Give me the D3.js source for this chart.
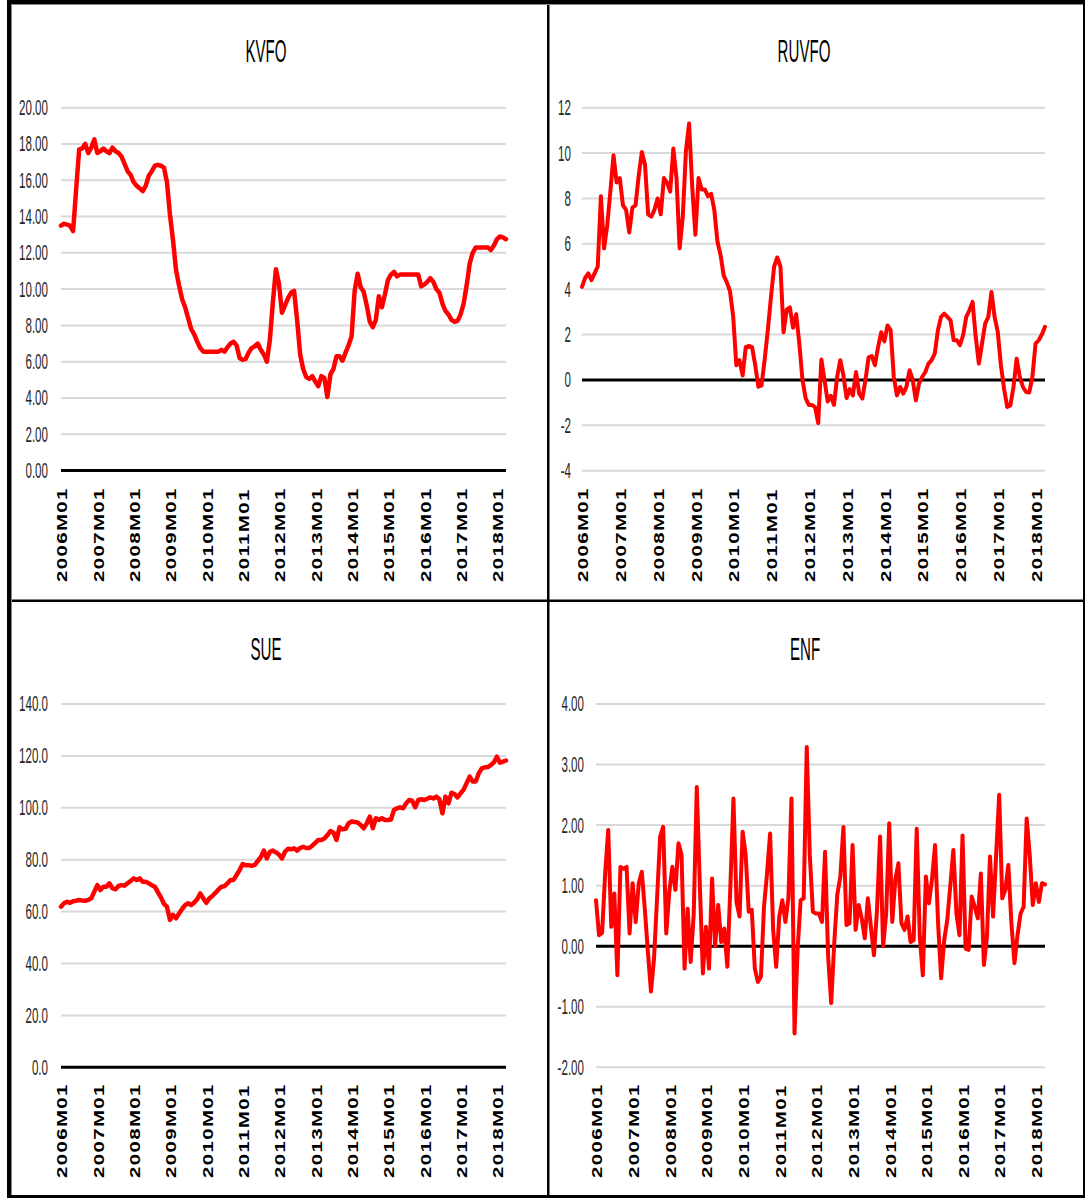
<!DOCTYPE html>
<html>
<head>
<meta charset="utf-8">
<script src="https://cdn.jsdelivr.net/npm/d3@7/dist/d3.min.js"></script>
<style>
  html, body { margin: 0; padding: 0; background: #fff; }
  svg { display: block; }
</style>
</head>
<body>
<svg id="chart" width="1088" height="1198"></svg>
<script>
"use strict";

// monthly series, 2006M01 .. 2018M04
const kvfo = [
  13.5, 13.6, 13.55, 13.5, 13.2, 15.5, 17.7, 17.75, 18.0, 17.5, 17.8, 18.25,
  17.5, 17.6, 17.75, 17.6, 17.5, 17.8, 17.6, 17.5, 17.3, 16.9, 16.5, 16.3,
  15.9, 15.7, 15.55, 15.4, 15.7, 16.25, 16.5, 16.8, 16.85, 16.8, 16.7, 15.9,
  14.1, 12.7, 11.05, 10.2, 9.45, 9.0, 8.4, 7.8, 7.5, 7.1, 6.75, 6.55,
  6.55, 6.55, 6.55, 6.55, 6.55, 6.65, 6.55, 6.8, 7.0, 7.1, 6.9, 6.2,
  6.1, 6.15, 6.5, 6.75, 6.85, 7.0, 6.65, 6.4, 6.0, 7.2, 9.3, 11.1,
  10.3, 8.7, 9.1, 9.5, 9.8, 9.9, 8.3, 6.4, 5.6, 5.15, 5.05, 5.2,
  4.9, 4.65, 5.2, 5.1, 4.05, 5.3, 5.6, 6.3, 6.3, 6.05, 6.5, 6.9,
  7.4, 9.9, 10.85, 10.1, 9.85, 9.1, 8.2, 7.9, 8.3, 9.6, 9.0, 9.7,
  10.5, 10.8, 10.95, 10.7, 10.8, 10.8, 10.8, 10.8, 10.8, 10.8, 10.8, 10.15,
  10.25, 10.4, 10.6, 10.4, 10.0, 9.8, 9.2, 8.8, 8.6, 8.3, 8.2, 8.25,
  8.6, 9.2, 10.2, 11.4, 12.0, 12.3, 12.3, 12.3, 12.3, 12.3, 12.15, 12.4,
  12.75, 12.9, 12.85, 12.75
];

const ruvfo = [
  4.1, 4.5, 4.7, 4.4, 4.7, 5.0, 8.1, 5.8, 6.8, 8.3, 9.9, 8.7,
  8.9, 7.7, 7.5, 6.5, 7.6, 7.7, 9.0, 10.05, 9.5, 7.3, 7.2, 7.5,
  8.0, 7.3, 8.9, 8.7, 8.3, 10.2, 8.9, 5.8, 7.2, 10.1, 11.3, 8.5,
  6.4, 8.9, 8.4, 8.4, 8.1, 8.2, 7.5, 6.1, 5.5, 4.6, 4.3, 3.9,
  2.8, 0.65, 0.87, 0.2, 1.45, 1.5, 1.45, 0.65, -0.3, -0.24, 0.9, 2.2,
  3.66, 5.0, 5.4, 5.0, 2.1, 3.1, 3.2, 2.3, 2.9, 1.6, 0.0, -0.8,
  -1.1, -1.1, -1.2, -1.9, 0.9, 0.0, -0.95, -0.7, -1.1, 0.13, 0.87, 0.2,
  -0.8, -0.4, -0.68, 0.35, -0.6, -0.82, 0.0, 1.0, 1.05, 0.65, 1.45, 2.1,
  1.7, 2.4, 2.2, 0.13, -0.68, -0.31, -0.6, -0.31, 0.43, 0.0, -0.9, -0.16,
  0.13, 0.35, 0.72, 0.87, 1.16, 2.19, 2.78, 2.92, 2.78, 2.63, 1.75, 1.75,
  1.53, 1.97, 2.78, 3.07, 3.44, 1.9, 0.72, 1.6, 2.48, 2.78, 3.88, 2.78,
  2.12, 0.65, -0.38, -1.19, -1.12, -0.31, 0.94, 0.13, -0.31, -0.53, -0.55, 0.13,
  1.6, 1.75, 2.0, 2.34
];

const sue = [
  61.9, 63.2, 63.8, 63.4, 64.0, 64.2, 64.5, 64.3, 64.2, 64.5, 65.1, 67.7,
  70.2, 68.3, 69.6, 69.6, 70.9, 69.0, 68.6, 69.9, 70.2, 70.0, 70.9, 71.8,
  72.8, 72.2, 72.8, 71.5, 71.5, 70.9, 70.2, 69.6, 67.5, 65.5, 63.0, 61.9,
  56.8, 58.7, 57.4, 59.3, 61.0, 62.5, 63.2, 62.5, 63.5, 64.8, 67.0, 65.1,
  63.4, 65.1, 66.0, 67.2, 68.5, 69.6, 69.8, 70.9, 72.2, 72.2, 74.1, 76.0,
  78.3, 77.9, 77.9, 77.6, 78.0, 79.5, 81.0, 83.5, 80.5, 83.0, 83.5, 82.8,
  82.0, 80.5, 83.1, 84.2, 84.0, 84.4, 83.5, 84.5, 85.0, 84.5, 84.5, 85.4,
  86.5, 87.6, 87.6, 88.2, 89.5, 91.0, 90.5, 87.6, 92.5, 91.7, 91.9, 94.0,
  94.7, 94.5, 94.3, 93.4, 92.1, 94.0, 96.6, 92.1, 96.0, 95.3, 96.0, 95.3,
  95.3, 95.5, 99.2, 99.8, 100.2, 99.8, 101.7, 103.0, 102.7, 100.2, 103.0, 103.3,
  103.0, 103.5, 104.0, 103.6, 104.3, 103.3, 97.9, 104.3, 101.7, 105.8, 105.3, 104.0,
  105.6, 107.0, 109.5, 112.0, 110.1, 110.1, 113.3, 115.2, 115.6, 115.7, 116.5, 117.5,
  119.7, 117.4, 117.8, 118.2
];

const enf = [
  0.76, 0.18, 0.22, 1.2, 1.92, 0.32, 0.87, -0.48, 1.31, 1.28, 1.31, 0.21,
  1.04, 0.4, 1.04, 1.23, 0.6, -0.1, -0.75, -0.2, 0.8, 1.81, 1.97, 0.21,
  0.9, 1.31, 0.93, 1.7, 1.51, -0.37, 0.62, -0.26, 0.54, 2.63, 1.0, -0.45,
  0.32, -0.37, 1.12, 0.0, 0.68, 0.07, 0.29, -0.34, 1.0, 2.44, 0.73, 0.49,
  1.89, 1.51, 0.57, 0.6, -0.37, -0.59, -0.5, 0.65, 1.2, 1.86, 0.27, -0.34,
  0.49, 0.76, 0.4, 0.8, 2.44, -1.44, -0.06, 0.76, 0.79, 3.29, 1.5, 0.57,
  0.54, 0.54, 0.4, 1.56, -0.17, -0.94, 0.05, 0.85, 1.15, 1.97, 0.35, 0.38,
  1.67, 0.27, 0.68, 0.46, 0.13, 0.79, 0.32, -0.15, 0.6, 1.81, 0.0, 0.54,
  2.03, 0.4, 1.1, 1.37, 0.38, 0.27, 0.49, 0.07, 0.1, 1.94, 0.16, -0.48,
  1.15, 0.71, 1.1, 1.67, 0.38, -0.53, 0.1, 0.43, 1.0, 1.59, 0.54, 0.18,
  1.83, -0.04, -0.06, 0.82, 0.65, 0.46, 1.2, -0.31, 0.16, 1.48, 0.49, 1.5,
  2.5, 0.79, 0.93, 1.34, 0.38, -0.28, 0.18, 0.54, 0.65, 2.11, 1.5, 0.68,
  1.04, 0.73, 1.04, 1.02
];

const tickLabels = ["2006M01", "2007M01", "2008M01", "2009M01", "2010M01", "2011M01",
  "2012M01", "2013M01", "2014M01", "2015M01", "2016M01", "2017M01", "2018M01"];

const kvfoTicks = [0, 2, 4, 6, 8, 10, 12, 14, 16, 18, 20];
const ruvfoTicks = [-4, -2, 0, 2, 4, 6, 8, 10, 12];
const sueTicks = [0, 20, 40, 60, 80, 100, 120, 140];
const enfTicks = [-2, -1, 0, 1, 2, 3, 4];

let panels = [
  { title: "KVFO", values: kvfo, ticks: kvfoTicks, dec: 2,
    x0: 61, x1: 506, yTop: 107.7, yBot: 470.5, labelRight: 48,
    titleX: 266, titleY: 62, labelBottom: 582, lw: 4.5 },
  { title: "RUVFO", values: ruvfo, ticks: ruvfoTicks, dec: 0,
    x0: 582, x1: 1045, yTop: 107.7, yBot: 470.7, labelRight: 571,
    titleX: 804, titleY: 62, labelBottom: 582, lw: 4 },
  { title: "SUE", values: sue, ticks: sueTicks, dec: 1,
    x0: 61, x1: 506, yTop: 704, yBot: 1067.3, labelRight: 48,
    titleX: 266, titleY: 660, labelBottom: 1178, lw: 4.5 },
  { title: "ENF", values: enf, ticks: enfTicks, dec: 2,
    x0: 596, x1: 1045, yTop: 704, yBot: 1067.3, labelRight: 584,
    titleX: 805, titleY: 660, labelBottom: 1178, lw: 4 }
];

var svg = d3.select("svg#chart");

panels.forEach(function(p) {
  let n = p.values.length;
  let x = d3.scaleLinear().domain([0, n - 1]).range([p.x0, p.x1]);
  let y = d3.scaleLinear()
    .domain([d3.min(p.ticks), d3.max(p.ticks)])
    .range([p.yBot, p.yTop]);

  let g = svg.append("g").attr("class", "panel");

  // gridlines, zero line drawn black
  g.selectAll("line.grid")
    .data(p.ticks.filter(t => t !== 0))
    .enter().append("line")
      .attr("class", "grid")
      .attr("x1", p.x0).attr("x2", p.x1)
      .attr("y1", d => y(d)).attr("y2", d => y(d))
      .attr("stroke", "#d9d9d9")
      .attr("stroke-width", 2);

  // y tick labels, squeezed like the original
  g.selectAll("g.ytick")
    .data(p.ticks)
    .enter().append("g")
      .attr("class", "ytick")
      .attr("transform", d => "translate(" + p.labelRight + "," + y(d) + ") scale(0.725,1.37)")
      .append("text")
        .attr("text-anchor", "end")
        .attr("dominant-baseline", "central")
        .attr("font-family", "'Liberation Sans', Arial, sans-serif")
        .attr("font-size", 16)
        .attr("fill", "#262626")
        .text(d => d.toFixed(p.dec));

  g.append("line")
    .attr("x1", p.x0).attr("x2", p.x1)
    .attr("y1", y(0)).attr("y2", y(0))
    .attr("stroke", "#000")
    .attr("stroke-width", 3);

  // x labels every 12 months, rotated
  g.selectAll("g.xtick")
    .data(tickLabels)
    .enter().append("g")
      .attr("class", "xtick")
      .attr("transform", (d, i) => "translate(" + (x(i * 12) + 1.5) + "," + p.labelBottom + ") scale(0.93,1.365) rotate(-90)")
      .append("text")
        .attr("text-anchor", "start")
        .attr("dominant-baseline", "central")
        .attr("font-family", "'Liberation Sans', Arial, sans-serif")
        .attr("font-weight", "bold")
        .attr("font-size", 15)
        .attr("letter-spacing", 1)
        .attr("fill", "#000")
        .text(d => d);

  // title
  g.append("g")
    .attr("transform", "translate(" + p.titleX + "," + p.titleY + ") scale(0.755,1.535)")
    .append("text")
      .attr("text-anchor", "middle")
      .attr("font-family", "'Liberation Sans', Arial, sans-serif")
      .attr("font-size", 20)
      .attr("fill", "#000")
      .text(p.title);

  let line = d3.line()
    .x((d, i) => x(i))
    .y(d => y(d));

  g.append("path")
    .datum(p.values)
    .attr("d", line)
    .attr("fill", "none")
    .attr("stroke", "#ff0000")
    .attr("stroke-width", p.lw)
    .attr("stroke-linejoin", "round")
    .attr("stroke-linecap", "round");
});

// frame and dividers
let frame = svg.append("g").attr("class", "frame");
frame.append("rect").attr("x", 7).attr("y", 0).attr("width", 1078).attr("height", 4).attr("fill", "#000");
frame.append("rect").attr("x", 7).attr("y", 0).attr("width", 4).attr("height", 1198).attr("fill", "#000");
frame.append("rect").attr("x", 1083).attr("y", 0).attr("width", 2).attr("height", 1198).attr("fill", "#000");
frame.append("rect").attr("x", 7).attr("y", 1195).attr("width", 1078).attr("height", 3).attr("fill", "#000");
frame.append("rect").attr("x", 547).attr("y", 0).attr("width", 2.5).attr("height", 1198).attr("fill", "#000");
frame.append("rect").attr("x", 7).attr("y", 599.5).attr("width", 1078).attr("height", 2.5).attr("fill", "#000");
frame.append("line").attr("x1", 11.5).attr("x2", 11.5).attr("y1", 4).attr("y2", 1195).attr("stroke", "#888").attr("stroke-width", 1);
frame.append("line").attr("x1", 11).attr("x2", 1083).attr("y1", 4.5).attr("y2", 4.5).attr("stroke", "#888").attr("stroke-width", 1);
</script>
</body>
</html>
